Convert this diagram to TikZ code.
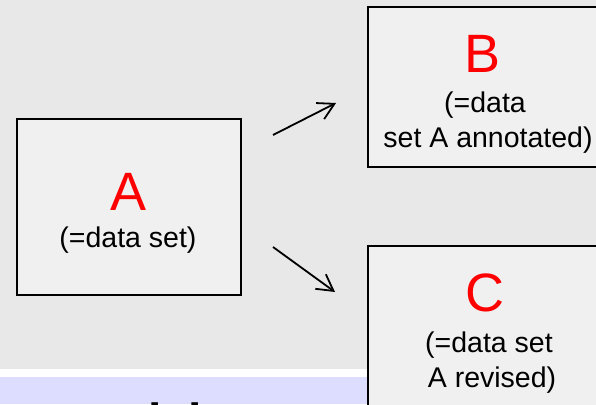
\documentclass[tikz,border=0pt]{standalone}
\usepackage{fontspec}
\setmainfont{Liberation Sans}
\usetikzlibrary{arrows.meta, positioning}
\definecolor{slidegray}{HTML}{E8E8E8}
\definecolor{boxgray}{HTML}{F0F0F0}
\definecolor{bandblue}{HTML}{DDDDFF}
\definecolor{letterred}{HTML}{FF0000}

\begin{document}
\begin{tikzpicture}[
    x=1pt, y=-1pt,
    databox/.style={rectangle, draw=black, fill=boxgray, line width=1.3pt, minimum width=224pt, inner sep=0pt},
    letter/.style={font=\fontsize{54}{60}\selectfont, text=letterred, anchor=base, inner sep=0pt},
    note/.style={font=\fontsize{28.5}{34}\selectfont, anchor=base, inner sep=0pt},
    arrow/.style={-{Straight Barb[length=16pt, width=18pt]}, line width=1.8pt}
]
\useasboundingbox (0,0) rectangle (596,404);
\clip (0,0) rectangle (596,404);

% Background
\fill[slidegray] (0,0) rectangle (596,369);
\fill[white] (0,369) rectangle (596,377);
\fill[bandblue] (0,377) rectangle (596,404);
\node[font=\fontsize{48}{56}\bfseries\selectfont, anchor=base west, inner sep=0pt] (title) at (-41,437) {Sequential};

% Data set A
\node[databox, minimum height=176pt] (boxA) at (129,207) {};
\node[letter] (letA) at (129,210) {A};
\node[note] (noteA) at (128,247) {(=data set)};

% Annotated set B
\node[databox, minimum width=234pt, minimum height=160pt] (boxB) at (485,87) {};
\node[letter] (letB) at (483,72) {B};
\node[note] (noteB1) at (485,112) {(=data};
\node[note] (noteB2) at (488,147) {set A annotated)};

% Revised set C
\node[databox, minimum width=234pt, minimum height=174pt] (boxC) at (485,333) {};
\node[letter] (letC) at (485,311) {C};
\node[note] (noteC1) at (489,352) {(=data set};
\node[note] (noteC2) at (492,387) {A revised)};

% Arrows
\coordinate (upStart) at (273,135);
\coordinate (upEnd) at (336,103);
\coordinate (downStart) at (273,247);
\coordinate (downEnd) at (335,292);
\draw[arrow] (upStart) -- (upEnd);
\draw[arrow] (downStart) -- (downEnd);

\end{tikzpicture}
\end{document}
